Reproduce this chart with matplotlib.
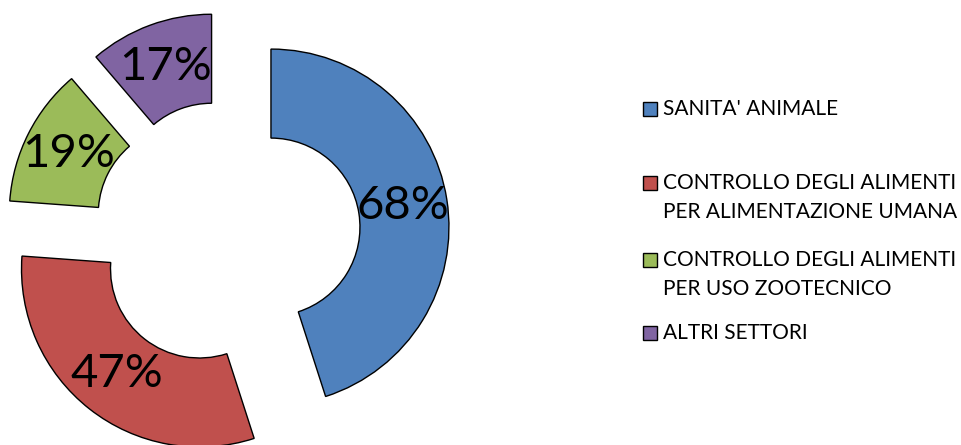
import matplotlib.pyplot as plt
from matplotlib.patches import Rectangle

# share of each sector (percent labels as shown on the ring)
labels = ["SANITA' ANIMALE",
          "CONTROLLO DEGLI ALIMENTI\nPER ALIMENTAZIONE UMANA",
          "CONTROLLO DEGLI ALIMENTI\nPER USO ZOOTECNICO",
          "ALTRI SETTORI"]
values = [68, 47, 19, 17]
colors = ["#4F81BD", "#C0504D", "#9BBB59", "#8064A2"]

W, H = 961, 445
fig = plt.figure(figsize=(W / 100, H / 100), dpi=100)
plt.rcParams['font.family'] = ['Lato', 'DejaVu Sans']

# axes fill the figure, one data unit = pie radius (178 px)
R = 178.0
cx, cy = 227, 234
ax = fig.add_axes([0, 0, 1, 1])

wedges, texts, autotexts = ax.pie(
    values, colors=colors, startangle=90, counterclock=False,
    explode=[0.25] * len(values), radius=1.0, pctdistance=0.75,
    autopct=lambda p: "%d%%" % round(p * sum(values) / 100),
    wedgeprops=dict(width=0.5, edgecolor="black", linewidth=1.0),
    textprops=dict(fontsize=34, color="black"))

ax.set_xlim(-cx / R, (W - cx) / R)
ax.set_ylim(-(H - cy) / R, cy / R)
ax.axis("off")

# legend drawn by hand, Excel-style spacing
legend_y = [109, 183, 260, 333]
for lab, col, y in zip(labels, colors, legend_y):
    fig.add_artist(Rectangle((643 / W, 1 - (y + 7) / H), 14 / W, 14 / H,
                             transform=fig.transFigure, facecolor=col,
                             edgecolor="black", linewidth=1.0))
    for i, line in enumerate(lab.split("\n")):
        fig.text(663 / W, 1 - (y + i * 29) / H, line, ha="left", va="center",
                 fontsize=15)

fig.savefig("out.png", dpi=100)
